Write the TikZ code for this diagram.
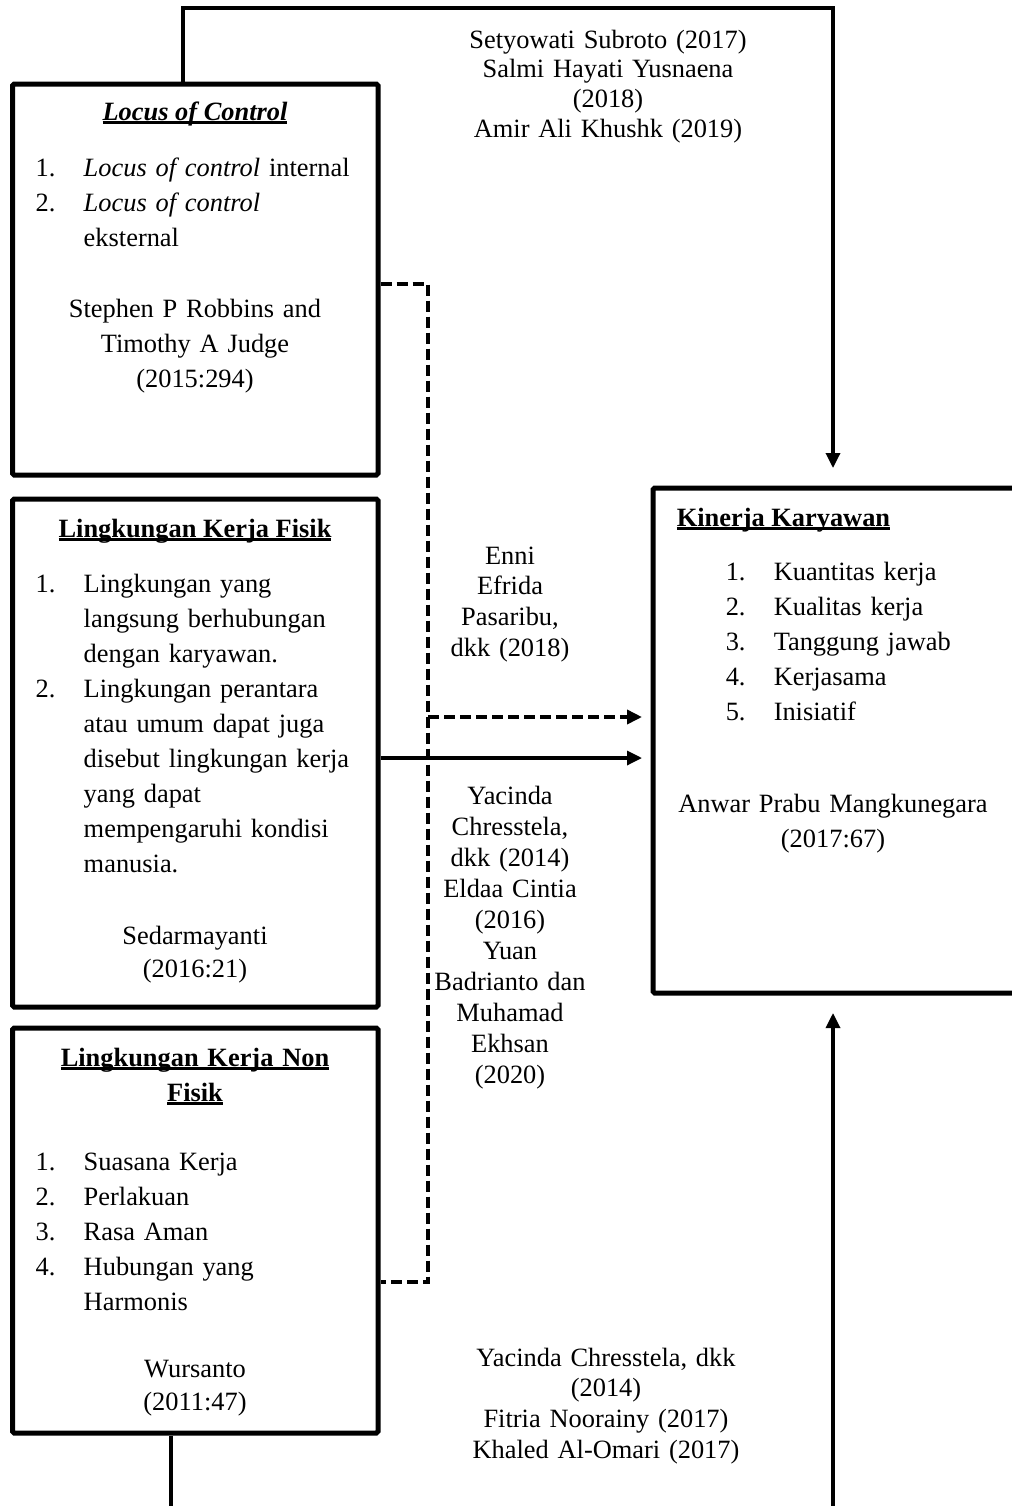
\documentclass[tikz,border=0pt]{standalone}
\usepackage{fontspec}
\setmainfont{Liberation Serif}
\usetikzlibrary{arrows.meta}

\newcommand{\ulbox}[1]{\leavevmode\setbox0\hbox{#1}\rlap{\rule[-2pt]{\wd0}{1.3pt}}\box0}
\newcommand{\itm}[1]{\makebox[24pt][l]{#1}}
\newcommand{\ind}{\hspace*{24pt}}

\tikzset{every picture/.style={line width=0.75pt}}
\tikzset{
  kbox/.style={draw, rectangle, line width=2.5pt, rounded corners=0.8pt, inner sep=0pt},
  boxtxt/.style={inner sep=0pt, font=\fontsize{13.2}{17.5}\selectfont},
  lefttxt/.style={boxtxt, anchor=base west, text width=175pt, align=left},
  midtxt/.style={boxtxt, anchor=base, text width=180pt, align=center},
  reftxt/.style={inner sep=0pt, anchor=base, text width=#1, align=center, font=\fontsize{13.2}{15.4}\selectfont},
  reftxt/.default=150pt,
  link/.style={line width=1.65pt},
  dlink/.style={line width=1.8pt, dash pattern=on 5.5pt off 2.5pt},
  tip/.style={-{Triangle[length=7.5pt,width=7pt]}},
}

\begin{document}
\begin{tikzpicture}[x=0.5pt,y=0.5pt,yscale=-1,xscale=1]
\useasboundingbox (0,0) rectangle (1012,1506);

%Shape: Rectangle [Locus of Control]
\node (loc) [kbox, minimum width=182.75pt, minimum height=195.5pt] at (195.25,279.5) {};
%Shape: Rectangle [Lingkungan Kerja Fisik]
\node (fis) [kbox, minimum width=182.75pt, minimum height=254pt] at (195.25,753) {};
%Shape: Rectangle [Lingkungan Kerja Non Fisik]
\node (non) [kbox, minimum width=182.75pt, minimum height=202.5pt] at (195.25,1230.5) {};
%Shape: Rectangle [Kinerja Karyawan]
\node (kin) [kbox, minimum width=188.5pt, minimum height=252.5pt] at (841.5,740.5) {};

% Text Node
\node (loct) [boxtxt, anchor=base] at (195,120) {\ulbox{\bfseries\itshape Locus of Control}};
% Text Node
\node (locl) [lefttxt] at (35,176) {\itm{1.}\textit{Locus of control} internal\\
  \itm{2.}\textit{Locus of control}\\
  \ind eksternal};
% Text Node
\node (locc) [midtxt] at (195,317) {Stephen P Robbins and\\Timothy A Judge\\(2015:294)};

% Text Node
\node (fist) [boxtxt, anchor=base] at (195,537) {\ulbox{\bfseries Lingkungan Kerja Fisik}};
% Text Node
\node (fisl) [lefttxt] at (35,592) {\itm{1.}Lingkungan yang\\
  \ind langsung berhubungan\\
  \ind dengan karyawan.\\
  \itm{2.}Lingkungan perantara\\
  \ind atau umum dapat juga\\
  \ind disebut lingkungan kerja\\
  \ind yang dapat\\
  \ind mempengaruhi kondisi\\
  \ind manusia.};
% Text Node
\node (fisc) [midtxt, font=\fontsize{13.2}{16.5}\selectfont] at (195,944) {Sedarmayanti\\(2016:21)};

% Text Node
\node (nont) [midtxt] at (195,1066) {\ulbox{\bfseries Lingkungan Kerja Non}\\ \ulbox{\bfseries Fisik}};
% Text Node
\node (nonl) [lefttxt] at (35,1170) {\itm{1.}Suasana Kerja\\
  \itm{2.}Perlakuan\\
  \itm{3.}Rasa Aman\\
  \itm{4.}Hubungan yang\\
  \ind Harmonis};
% Text Node
\node (nonc) [midtxt, font=\fontsize{13.2}{16.5}\selectfont] at (195,1377) {Wursanto\\(2011:47)};

% Text Node
\node (kint) [boxtxt, anchor=base west] at (676,526) {\ulbox{\bfseries Kinerja Karyawan}};
% Text Node
\node (kinl) [lefttxt] at (725,580) {\itm{1.}Kuantitas kerja\\
  \itm{2.}Kualitas kerja\\
  \itm{3.}Tanggung jawab\\
  \itm{4.}Kerjasama\\
  \itm{5.}Inisiatif};
% Text Node
\node (kinc) [midtxt] at (833,812) {Anwar Prabu Mangkunegara\\(2017:67)};

% Text Node
\node (reftop) [reftxt=160pt, font=\fontsize{13.2}{14.85}\selectfont] at (608,48) {Setyowati Subroto (2017)\\Salmi Hayati Yusnaena\\(2018)\\Amir Ali Khushk (2019)};
% Text Node
\node (refmid) [reftxt=80pt] at (510,564) {Enni\\Efrida\\Pasaribu,\\dkk (2018)};
% Text Node
\node (reflow) [reftxt=80pt, font=\fontsize{13.2}{15.5}\selectfont] at (510,804) {Yacinda\\Chresstela,\\dkk (2014)\\Eldaa Cintia\\(2016)\\Yuan\\Badrianto dan\\Muhamad\\Ekhsan\\(2020)};
% Text Node
\node (refbot) [reftxt=160pt] at (606,1366) {Yacinda Chresstela, dkk\\(2014)\\Fitria Noorainy (2017)\\Khaled Al-Omari (2017)};

\coordinate (topr) at (833,8);
\coordinate (botr) at (833,1515);
\coordinate (dtop) at (428,284);
\coordinate (dbot) at (428,1282);
\coordinate (dmid) at (428,717);
\coordinate (smid) at (400,758);

%Straight Lines [top]
\draw [link, tip, shorten >=8.75pt] ([xshift=-6.1pt]loc.north) |- (topr) -- (kin.north -| topr);
%Straight Lines [bottom]
\draw [link, tip, shorten >=8.75pt] ([xshift=-12.1pt]non.south) |- (botr) -- (kin.south -| botr);
%Straight Lines [dashed bracket]
\draw [dlink] (loc.east |- dtop) -- (dtop) -- (dbot) -- (non.east |- dbot);
%Straight Lines [dashed arrow]
\draw [dlink, tip, shorten >=4.25pt] (dmid) -- (kin.west |- dmid);
%Straight Lines [solid arrow]
\draw [link, tip, shorten >=4.25pt] (fis.east |- smid) -- (kin.west |- smid);

\end{tikzpicture}
\end{document}
